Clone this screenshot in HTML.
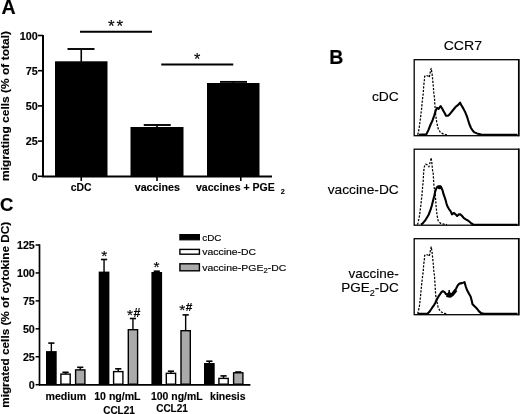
<!DOCTYPE html>
<html><head><meta charset="utf-8"><style>
html,body{margin:0;padding:0;background:#fff;}
svg{display:block;}
text{font-family:"Liberation Sans", sans-serif;fill:#000;stroke:#000;stroke-width:0.15px;}
</style></head><body>
<svg width="520" height="414" viewBox="0 0 520 414">
<rect width="520" height="414" fill="#fff"/>
<g style="filter:grayscale(1) blur(0.3px)">
<text x="1.6" y="13.8" font-size="19.5" font-weight="bold" text-anchor="start" textLength="14.2" lengthAdjust="spacingAndGlyphs" >A</text>
<line x1="43" y1="35" x2="43" y2="177" stroke="#000" stroke-width="2" />
<line x1="38" y1="35.5" x2="43" y2="35.5" stroke="#000" stroke-width="1.6" />
<text x="37.8" y="39.7" font-size="10" font-weight="bold" text-anchor="end" textLength="18.01" lengthAdjust="spacingAndGlyphs" >100</text>
<line x1="38" y1="70.7" x2="43" y2="70.7" stroke="#000" stroke-width="1.6" />
<text x="37.8" y="74.9" font-size="10" font-weight="bold" text-anchor="end" textLength="12.01" lengthAdjust="spacingAndGlyphs" >75</text>
<line x1="38" y1="105.9" x2="43" y2="105.9" stroke="#000" stroke-width="1.6" />
<text x="37.8" y="110.1" font-size="10" font-weight="bold" text-anchor="end" textLength="12.01" lengthAdjust="spacingAndGlyphs" >50</text>
<line x1="38" y1="141.1" x2="43" y2="141.1" stroke="#000" stroke-width="1.6" />
<text x="37.8" y="145.3" font-size="10" font-weight="bold" text-anchor="end" textLength="12.01" lengthAdjust="spacingAndGlyphs" >25</text>
<line x1="38" y1="176.3" x2="43" y2="176.3" stroke="#000" stroke-width="1.6" />
<text x="37.8" y="180.5" font-size="10" font-weight="bold" text-anchor="end" textLength="6.0" lengthAdjust="spacingAndGlyphs" >0</text>
<line x1="42" y1="176.4" x2="272" y2="176.4" stroke="#000" stroke-width="2" />
<rect x="55" y="61.3" width="52.5" height="114.7" fill="#000"/>
<rect x="130.5" y="127" width="53" height="49" fill="#000"/>
<rect x="207" y="83" width="52.5" height="93" fill="#000"/>
<line x1="81.25" y1="49" x2="81.25" y2="62" stroke="#000" stroke-width="1.6" />
<line x1="67.5" y1="49" x2="94.5" y2="49" stroke="#000" stroke-width="1.9" />
<line x1="157" y1="125" x2="157" y2="128" stroke="#000" stroke-width="1.6" />
<line x1="143.75" y1="125" x2="170.75" y2="125" stroke="#000" stroke-width="1.9" />
<line x1="233.25" y1="81.9" x2="233.25" y2="84" stroke="#000" stroke-width="1.6" />
<line x1="220" y1="81.9" x2="247" y2="81.9" stroke="#000" stroke-width="1.9" />
<line x1="80" y1="31.8" x2="152" y2="31.8" stroke="#000" stroke-width="2" />
<line x1="161.25" y1="64.6" x2="233.25" y2="64.6" stroke="#000" stroke-width="2" />
<text x="107.98" y="31.95" font-size="17" text-anchor="start" >*</text>
<text x="116.59" y="31.95" font-size="17" text-anchor="start" >*</text>
<text x="193.92" y="65.29" font-size="16.3" text-anchor="start" >*</text>
<line x1="81.25" y1="176.5" x2="81.25" y2="181" stroke="#000" stroke-width="1.6" />
<line x1="157" y1="176.5" x2="157" y2="181" stroke="#000" stroke-width="1.6" />
<line x1="240.8" y1="176.5" x2="240.8" y2="181" stroke="#000" stroke-width="1.6" />
<text x="70.8" y="190.8" font-size="10.2" font-weight="bold" text-anchor="start" textLength="20.8" lengthAdjust="spacingAndGlyphs" >cDC</text>
<text x="134.7" y="190.8" font-size="10.2" font-weight="bold" text-anchor="start" textLength="45.2" lengthAdjust="spacingAndGlyphs" >vaccines</text>
<text x="196" y="190.8" font-size="10.2" font-weight="bold" text-anchor="start" textLength="78.8" lengthAdjust="spacingAndGlyphs" >vaccines + PGE</text>
<text x="280.8" y="194.2" font-size="7.2" font-weight="bold" text-anchor="start" >2</text>
<text x="0" y="0" font-size="11" font-weight="bold" text-anchor="start" textLength="149.9" lengthAdjust="spacingAndGlyphs" transform="translate(8.7,180.9) rotate(-90)">migrating cells (% of total)</text>
<text x="329.2" y="63.9" font-size="19.5" font-weight="bold" text-anchor="start" >B</text>
<text x="443.7" y="50.2" font-size="13.5" text-anchor="start" textLength="38.4" lengthAdjust="spacingAndGlyphs" >CCR7</text>
<rect x="414.2" y="59.7" width="104.4" height="76" fill="none" stroke="#000" stroke-width="1.3"/>
<line x1="518.8" y1="59.1" x2="518.8" y2="136.3" stroke="#000" stroke-width="1.6" />
<rect x="414.2" y="149.2" width="104.4" height="76" fill="none" stroke="#000" stroke-width="1.3"/>
<line x1="518.8" y1="148.6" x2="518.8" y2="225.8" stroke="#000" stroke-width="1.6" />
<rect x="414.2" y="238.7" width="104.4" height="76" fill="none" stroke="#000" stroke-width="1.3"/>
<line x1="518.8" y1="238.1" x2="518.8" y2="315.3" stroke="#000" stroke-width="1.6" />
<text x="398.8" y="100.9" font-size="13.5" text-anchor="end" textLength="26.9" lengthAdjust="spacingAndGlyphs" >cDC</text>
<text x="398.8" y="194.4" font-size="13.5" text-anchor="end" textLength="71.1" lengthAdjust="spacingAndGlyphs" >vaccine-DC</text>
<text x="398.8" y="277.6" font-size="13.5" text-anchor="end" >vaccine-</text>
<text x="398.8" y="291.8" font-size="13.5" text-anchor="end">PGE<tspan font-size="9" dy="4.2">2</tspan><tspan dy="-4.2">-DC</tspan></text>
<polyline points="417.6,134.8 418.3,132.8 419.3,127 420.6,117.3 421.7,107.7 422.6,98 423.2,93.9 423.7,86.2 424.4,79.9 424.6,76.5 426,75.3 428,76 429.3,77.3 430.3,72 431.2,68.3 432.1,74 432.4,76.5 432.8,81.3 433.3,86.2 433.8,92.9 434.5,98 434.8,103.8 435.4,112.5 436.7,122.2 438.2,128.9 440.5,132.5 444,134.4 447,134.8" fill="none" stroke="#000" stroke-width="1.25" stroke-linejoin="round" stroke-dasharray="2.2,1.4"/>
<polyline points="417.4,224.6 418.1,222.7 419.6,215 420.8,205.3 421.9,195.7 422.7,186 423.2,181 423.7,171.3 424.4,166.5 425.6,164.2 428,165.2 429,166.8 430.4,161 431.2,157.8 431.9,163.1 432.5,170 433.3,174 433.6,181 434,186 434.8,192 435.4,196 436,205 437,215 438.2,221 440.5,223.3 444,224.2 447,224.6" fill="none" stroke="#000" stroke-width="1.25" stroke-linejoin="round" stroke-dasharray="2.2,1.4"/>
<polyline points="417.6,313.8 418.3,311.7 419.6,305 420.6,295.3 421.5,285.7 422.6,276 423.2,271.9 423.7,264.2 424.4,259.3 424.6,255.5 426,254.3 427.8,255 429.3,256.2 430.3,251 431.2,246.8 432.1,252.5 432.4,255.5 433.3,264.2 433.8,270.9 434.5,276 435.1,286 435.7,295.3 437.2,303 438.2,307.9 440.5,311.5 444,313.4 447,313.8" fill="none" stroke="#000" stroke-width="1.25" stroke-linejoin="round" stroke-dasharray="2.2,1.4"/>
<polyline points="418.8,134.8 426.3,134.4 428.5,129.9 430.4,125 432.6,120.2 434.3,115.4 435.7,110.6 437,107.9 438.6,108.8 440.6,106 442.4,109 444.3,112.4 446,115.8 447.7,115.8 449.2,114.8 450.8,112.9 453.5,109.5 455.9,106.6 457.9,105.2 460.1,102.6 461.4,105.2 463.4,108.6 465.3,112.4 466.9,116.3 468.2,120.5 469.5,124.5 471,128 472.8,130.8 474.5,132.4 477,133.4 481,134.6 517.5,134.8" fill="none" stroke="#000" stroke-width="2.1" stroke-linejoin="round"/>
<polyline points="421,224.7 422.5,223.6 425.6,219.8 428.5,215 430.4,210.2 431.9,205.3 433.1,200.5 434.3,195.7 435.4,190.8 436.8,187.3 438.5,186.2 440.5,186.2 442.6,190.5 443.4,193.7 444.5,196.9 445.6,200.1 446.4,203.3 447.5,206.5 449,209.1 450.7,211.3 452,214.4 454.1,212.9 455.7,214.4 457.1,216 458.9,214.4 460.5,214.4 462.1,216 463.9,218.2 465.8,219.4 467.9,220.5 469.5,221.8 471.5,223.5 473.5,224.7 517.5,224.7" fill="none" stroke="#000" stroke-width="2.1" stroke-linejoin="round"/>
<polyline points="418,313.8 427.7,313.5 429.4,311.8 431,309.5 432.5,307.2 433.9,305.3 435.5,302.5 436.8,299.5 438.5,296.4 439.6,294.9 441.5,292.2 442.8,291.2 444.6,292.2 446,294.1 448,294.5 449.2,292.5 450.5,294.8 452.5,293.5 454.5,291 456,288.8 457.7,285.5 459.3,283.6 462,283.1 464.5,282.1 465.7,286.3 467,290 468.9,293.6 470.7,296.8 471.8,301 472.5,304.2 474.8,306.5 477.1,308.8 478.8,311.1 480.8,312.9 484,313.8 517.5,313.8" fill="none" stroke="#000" stroke-width="2.1" stroke-linejoin="round"/>
<polyline points="446.5,295 448.5,295.8 450.5,296 452.5,294.5 454.5,292 456,290" fill="none" stroke="#000" stroke-width="3.4" stroke-linejoin="round"/>
<line x1="449.2" y1="293" x2="449.2" y2="289.9" stroke="#000" stroke-width="1.5" />
<ellipse cx="439.6" cy="187.3" rx="2.6" ry="1.9" fill="#000"/>
<text x="-0.1" y="211.3" font-size="18.5" font-weight="bold" text-anchor="start" >C</text>
<line x1="39.5" y1="244.3" x2="39.5" y2="385.5" stroke="#000" stroke-width="1.7" />
<line x1="35.6" y1="245.0" x2="39.5" y2="245.0" stroke="#000" stroke-width="1.5" />
<text x="34.8" y="249.0" font-size="10" font-weight="bold" text-anchor="end" textLength="17.85" lengthAdjust="spacingAndGlyphs" >125</text>
<line x1="35.6" y1="272.94" x2="39.5" y2="272.94" stroke="#000" stroke-width="1.5" />
<text x="34.8" y="276.94" font-size="10" font-weight="bold" text-anchor="end" textLength="17.85" lengthAdjust="spacingAndGlyphs" >100</text>
<line x1="35.6" y1="300.88" x2="39.5" y2="300.88" stroke="#000" stroke-width="1.5" />
<text x="34.8" y="304.88" font-size="10" font-weight="bold" text-anchor="end" textLength="11.9" lengthAdjust="spacingAndGlyphs" >75</text>
<line x1="35.6" y1="328.82" x2="39.5" y2="328.82" stroke="#000" stroke-width="1.5" />
<text x="34.8" y="332.82" font-size="10" font-weight="bold" text-anchor="end" textLength="11.9" lengthAdjust="spacingAndGlyphs" >50</text>
<line x1="35.6" y1="356.76" x2="39.5" y2="356.76" stroke="#000" stroke-width="1.5" />
<text x="34.8" y="360.76" font-size="10" font-weight="bold" text-anchor="end" textLength="11.9" lengthAdjust="spacingAndGlyphs" >25</text>
<line x1="35.6" y1="384.7" x2="39.5" y2="384.7" stroke="#000" stroke-width="1.5" />
<text x="34.8" y="388.7" font-size="10" font-weight="bold" text-anchor="end" textLength="5.95" lengthAdjust="spacingAndGlyphs" >0</text>
<line x1="39" y1="384.9" x2="250.4" y2="384.9" stroke="#000" stroke-width="1.7" />
<line x1="51.35" y1="343.1" x2="51.35" y2="352.1" stroke="#000" stroke-width="1.4" />
<line x1="48.25" y1="343.1" x2="54.45" y2="343.1" stroke="#000" stroke-width="1.6" />
<rect x="46.0" y="351.1" width="10.7" height="33.1" fill="#000"/>
<line x1="65.55" y1="372.3" x2="65.55" y2="374.4" stroke="#000" stroke-width="1.4" />
<line x1="62.45" y1="372.3" x2="68.65" y2="372.3" stroke="#000" stroke-width="1.6" />
<rect x="60.90" y="374.10" width="9.30" height="10.10" fill="#fff" stroke="#000" stroke-width="1.4"/>
<line x1="80.25" y1="367.3" x2="80.25" y2="370.2" stroke="#000" stroke-width="1.4" />
<line x1="77.15" y1="367.3" x2="83.35" y2="367.3" stroke="#000" stroke-width="1.6" />
<rect x="75.60" y="369.90" width="9.30" height="14.30" fill="#aaaaaa" stroke="#000" stroke-width="1.4"/>
<line x1="104.05" y1="259.5" x2="104.05" y2="272.6" stroke="#000" stroke-width="1.4" />
<line x1="100.95" y1="259.5" x2="107.15" y2="259.5" stroke="#000" stroke-width="1.6" />
<rect x="98.7" y="271.6" width="10.7" height="112.6" fill="#000"/>
<line x1="118.25" y1="368.8" x2="118.25" y2="371.9" stroke="#000" stroke-width="1.4" />
<line x1="115.15" y1="368.8" x2="121.35" y2="368.8" stroke="#000" stroke-width="1.6" />
<rect x="113.60" y="371.60" width="9.30" height="12.60" fill="#fff" stroke="#000" stroke-width="1.4"/>
<line x1="132.95" y1="318.5" x2="132.95" y2="330.0" stroke="#000" stroke-width="1.4" />
<line x1="129.85" y1="318.5" x2="136.05" y2="318.5" stroke="#000" stroke-width="1.6" />
<rect x="128.30" y="329.70" width="9.30" height="54.50" fill="#aaaaaa" stroke="#000" stroke-width="1.4"/>
<line x1="156.75" y1="271.2" x2="156.75" y2="273.0" stroke="#000" stroke-width="1.4" />
<line x1="153.65" y1="271.2" x2="159.85" y2="271.2" stroke="#000" stroke-width="1.6" />
<rect x="151.4" y="272.0" width="10.7" height="112.2" fill="#000"/>
<line x1="170.95" y1="371.2" x2="170.95" y2="373.6" stroke="#000" stroke-width="1.4" />
<line x1="167.85" y1="371.2" x2="174.05" y2="371.2" stroke="#000" stroke-width="1.6" />
<rect x="166.30" y="373.30" width="9.30" height="10.90" fill="#fff" stroke="#000" stroke-width="1.4"/>
<line x1="185.65" y1="314.9" x2="185.65" y2="331.0" stroke="#000" stroke-width="1.4" />
<line x1="182.55" y1="314.9" x2="188.75" y2="314.9" stroke="#000" stroke-width="1.6" />
<rect x="181.00" y="330.70" width="9.30" height="53.50" fill="#aaaaaa" stroke="#000" stroke-width="1.4"/>
<line x1="209.35" y1="361.2" x2="209.35" y2="364.0" stroke="#000" stroke-width="1.4" />
<line x1="206.25" y1="361.2" x2="212.45" y2="361.2" stroke="#000" stroke-width="1.6" />
<rect x="204.0" y="363.0" width="10.7" height="21.2" fill="#000"/>
<line x1="223.55" y1="375.9" x2="223.55" y2="378.7" stroke="#000" stroke-width="1.4" />
<line x1="220.45" y1="375.9" x2="226.65" y2="375.9" stroke="#000" stroke-width="1.6" />
<rect x="218.90" y="378.40" width="9.30" height="5.80" fill="#fff" stroke="#000" stroke-width="1.4"/>
<line x1="238.25" y1="372.0" x2="238.25" y2="373.1" stroke="#000" stroke-width="1.4" />
<line x1="235.15" y1="372.0" x2="241.35" y2="372.0" stroke="#000" stroke-width="1.6" />
<rect x="233.60" y="372.80" width="9.30" height="11.40" fill="#aaaaaa" stroke="#000" stroke-width="1.4"/>
<text x="101.28" y="260.98" font-size="15.5" text-anchor="start" >*</text>
<text x="153.43" y="272.48" font-size="15.5" text-anchor="start" >*</text>
<text x="127.08" y="320.08" font-size="15.5" text-anchor="start" >*</text>
<text x="133.43" y="316.68" font-size="12.4" font-weight="bold" text-anchor="start" >#</text>
<text x="179.28" y="314.98" font-size="15.5" text-anchor="start" >*</text>
<text x="185.75" y="310.77" font-size="11.8" font-weight="bold" text-anchor="start" >#</text>
<rect x="179.9" y="234.6" width="19.5" height="5.2" fill="#000" stroke="#000" stroke-width="1.2"/>
<rect x="179.9" y="249.4" width="19.5" height="4.8" fill="#fff" stroke="#000" stroke-width="1.4"/>
<rect x="179.9" y="263.8" width="19.5" height="7" fill="#aaaaaa" stroke="#000" stroke-width="1.4"/>
<text x="202.3" y="240.7" font-size="9.6" text-anchor="start" textLength="19.2" lengthAdjust="spacingAndGlyphs" >cDC</text>
<text x="202.3" y="254.8" font-size="9.6" text-anchor="start" textLength="53.8" lengthAdjust="spacingAndGlyphs" >vaccine-DC</text>
<text x="202.3" y="270.9" font-size="9.6" textLength="84" lengthAdjust="spacingAndGlyphs">vaccine-PGE<tspan font-size="7" dy="2.4">2</tspan><tspan dy="-2.4">-DC</tspan></text>
<text x="45.5" y="399.5" font-size="10.2" font-weight="bold" text-anchor="start" textLength="40.6" lengthAdjust="spacingAndGlyphs" >medium</text>
<text x="94.2" y="399.9" font-size="10.2" font-weight="bold" text-anchor="start" textLength="46.4" lengthAdjust="spacingAndGlyphs" >10 ng/mL</text>
<text x="103.2" y="414" font-size="10.2" font-weight="bold" text-anchor="start" textLength="31.6" lengthAdjust="spacingAndGlyphs" >CCL21</text>
<text x="151" y="399.5" font-size="10.2" font-weight="bold" text-anchor="start" textLength="51.6" lengthAdjust="spacingAndGlyphs" >100 ng/mL</text>
<text x="156.2" y="412.2" font-size="10.2" font-weight="bold" text-anchor="start" textLength="31.6" lengthAdjust="spacingAndGlyphs" >CCL21</text>
<text x="210.1" y="399.5" font-size="10.2" font-weight="bold" text-anchor="start" textLength="35.4" lengthAdjust="spacingAndGlyphs" >kinesis</text>
<text x="0" y="0" font-size="11" font-weight="bold" text-anchor="start" textLength="186" lengthAdjust="spacingAndGlyphs" transform="translate(8.6,407.8) rotate(-90)">migrated cells (% of cytokine DC)</text>
</g>
</svg>
</body></html>
